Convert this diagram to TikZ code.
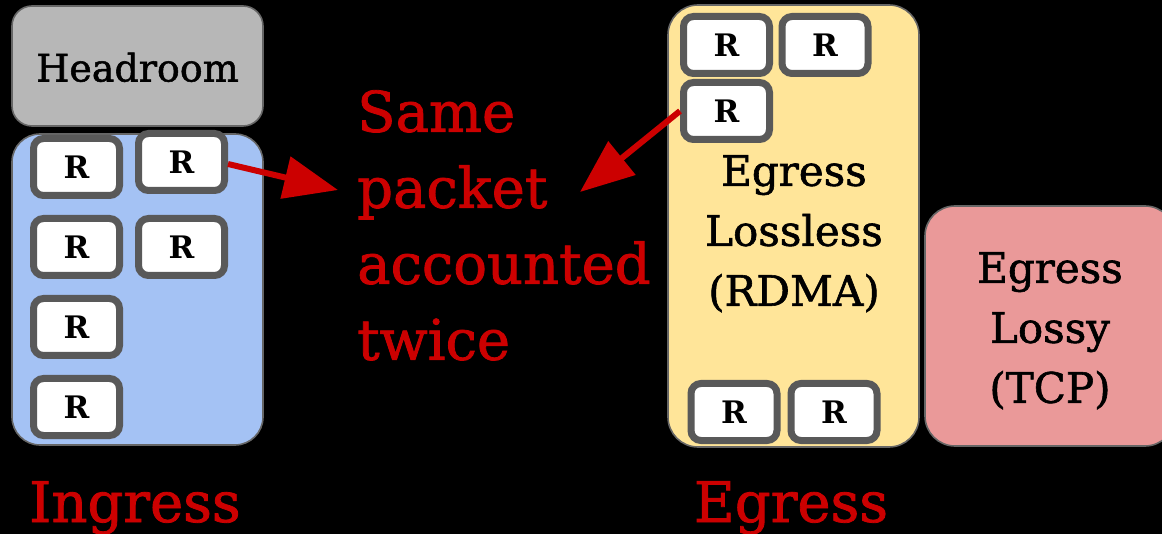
\documentclass[tikz,border=0pt]{standalone}
\usepackage{fontspec}
\setmainfont{DejaVu Serif}
\newfontfamily\heavyserif{DejaVu Serif}[FakeBold=1.4]
\usetikzlibrary{arrows.meta}

\definecolor{roomgray}{HTML}{B7B7B7}
\definecolor{edgegray}{HTML}{666666}
\definecolor{ingblue}{HTML}{A4C2F4}
\definecolor{egyellow}{HTML}{FFE599}
\definecolor{egpink}{HTML}{EA9999}
\definecolor{pktedge}{HTML}{595959}
\definecolor{alertred}{HTML}{CC0000}

\tikzset{
  pool/.style={draw=edgegray, line width=1.6pt, inner sep=0pt},
  pkt/.style={draw=pktedge, fill=white, line width=7pt, rounded corners=10pt,
    minimum width=86pt, minimum height=57pt, inner sep=0pt,
    font=\fontsize{31}{31}\selectfont\bfseries},
  pooltext/.style={inner sep=0pt, align=center, font=\fontsize{42}{60}\selectfont\heavyserif},
  redtext/.style={inner sep=0pt, text=alertred, font=\fontsize{56}{76}\selectfont\heavyserif},
  redarrow/.style={draw=alertred, line width=6pt,
    -{Triangle[length=54pt, width=42pt]}}
}

\begin{document}
\begin{tikzpicture}[x=1pt, y=-1pt]
  \useasboundingbox (0,0) rectangle (1162,534);
  \clip (0,0) rectangle (1162,534);
  \fill[black] (0,0) rectangle (1162,534);

  % ingress side: headroom and shared pool
  \node[pool, fill=roomgray, rounded corners=20pt, minimum width=251pt, minimum height=120pt]
    (headroom) at (137.5,66) {};
  \node[anchor=base, inner sep=0pt, font=\fontsize{38}{38}\selectfont\heavyserif] (headroomlbl)
    at (137.5,81.5) {Headroom};
  \node[pool, fill=ingblue, rounded corners=28pt, minimum width=251pt, minimum height=311pt]
    (ingress) at (137.5,289.5) {};

  \node[pkt] (i1) at (76.5,167) {R};
  \node[pkt] (i2) at (181.5,162) {R};
  \node[pkt] (i3) at (76.5,247) {R};
  \node[pkt] (i4) at (181.5,247) {R};
  \node[pkt] (i5) at (76.5,327) {R};
  \node[pkt] (i6) at (76.5,407) {R};

  % egress side: lossless and lossy queues
  \node[pool, fill=egyellow, rounded corners=30pt, minimum width=251pt, minimum height=442pt]
    (lossless) at (793.5,226) {};
  \node[pool, fill=egpink, rounded corners=30pt, minimum width=250pt, minimum height=240pt]
    (lossy) at (1050,326) {};

  \node[pooltext, anchor=north] (losslesslbl) at (794,155) {Egress\\Lossless\\(RDMA)};
  \node[pooltext, anchor=north] (lossylbl) at (1050,252) {Egress\\Lossy\\(TCP)};

  \node[pkt] (e1) at (726.5,45) {R};
  \node[pkt] (e2) at (825,45) {R};
  \node[pkt] (e3) at (726.5,111) {R};
  \node[pkt] (e4) at (734,412) {R};
  \node[pkt] (e5) at (834,412) {R};

  % annotation
  \node[redtext, anchor=north west, align=left] (note) at (357,90)
    {Same\\packet\\accounted\\twice};
  \coordinate (tipA) at (338,190);
  \coordinate (tipB) at (580,192);
  \draw[redarrow] ([yshift=-2pt]i2.east) -- (tipA);
  \draw[redarrow] (e3.west) -- (tipB);

  % side captions
  \node[redtext, anchor=base] (inglbl) at (135,522) {Ingress};
  \node[redtext, anchor=base] (eglbl) at (791,522) {Egress};
\end{tikzpicture}
\end{document}
